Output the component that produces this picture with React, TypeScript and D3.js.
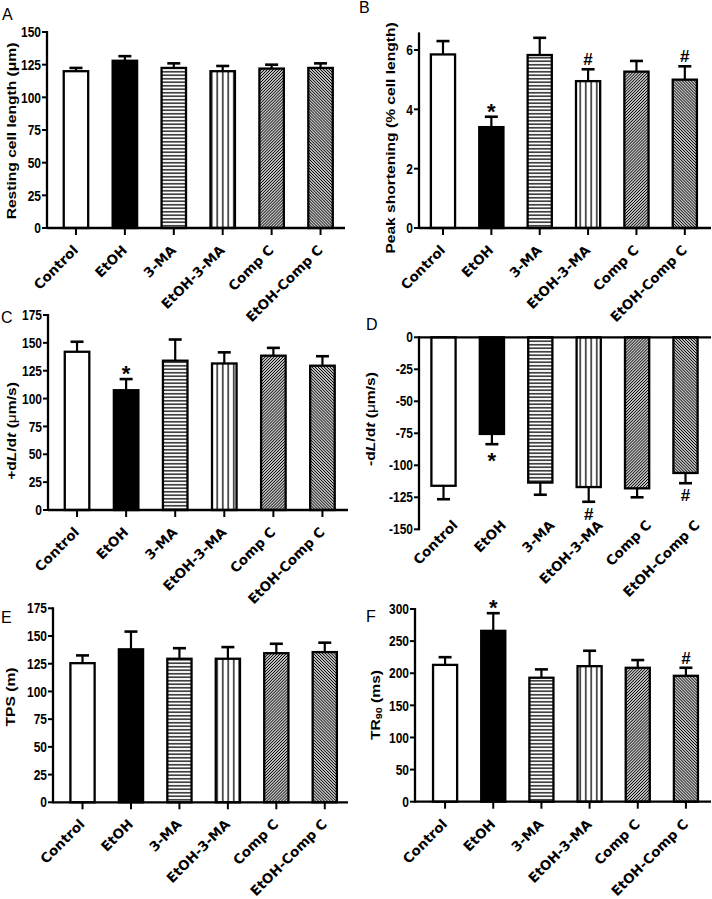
import React from "react";
import * as d3 from "d3";

const categories = ["Control", "EtOH", "3-MA", "EtOH-3-MA", "Comp C", "EtOH-Comp C"];

const restingMean = [120, 128, 122.5, 120, 122, 122.5];
const restingSem = [2.5, 3.5, 3.5, 4, 3, 3.5];
const restingTicks = [0, 25, 50, 75, 100, 125, 150];
const restingMarks = ["", "", "", "", "", ""];

const peakMean = [5.85, 3.4, 5.83, 4.95, 5.27, 5.0];
const peakSem = [0.45, 0.35, 0.58, 0.4, 0.36, 0.45];
const peakTicks = [0, 2, 4, 6];
const peakMarks = ["", "*", "", "#", "", "#"];

const plusMean = [142, 107.5, 134, 131.5, 138.5, 129.5];
const plusSem = [9, 10, 19, 10, 7, 8.5];
const plusTicks = [0, 25, 50, 75, 100, 125, 150, 175];
const plusMarks = ["", "*", "", "", "", ""];

const minusMean = [-116, -75.5, -113.5, -117, -118, -106];
const minusSem = [10.5, 8, 9.5, 11.5, 7, 8];
const minusTicks = [0, -25, -50, -75, -100, -125, -150];
const minusMarks = ["", "*", "", "#", "", "#"];

const tpsMean = [125.5, 138, 129.5, 129.5, 134.5, 135.5];
const tpsSem = [7, 16, 9.5, 10.5, 8.5, 8.5];
const tpsTicks = [0, 25, 50, 75, 100, 125, 150, 175];
const tpsMarks = ["", "", "", "", "", ""];

const tr90Mean = [213, 266, 193, 211, 208.5, 196];
const tr90Sem = [12, 27.5, 13, 24, 12, 12.5];
const tr90Ticks = [0, 50, 100, 150, 200, 250, 300];
const tr90Marks = ["", "*", "", "", "", "#"];

const FONT = "'Liberation Sans', Arial, Helvetica, sans-serif";
const XFONT = "'DejaVu Sans', Verdana, sans-serif";
const fills = ["#ffffff", "#000000", "url(#hatchH)", "url(#hatchV)", "url(#hatchR)", "url(#hatchL)"];

type Cfg = {
  letter: string;
  letterPos: [number, number];
  mean: number[];
  sem: number[];
  ticks: number[];
  marks: string[];
  domain: [number, number];
  yRange: [number, number];
  axisX: number;
  xRange: [number, number];
  xEnd: number;
  labelCenter: [number, number];
  yLabel: React.ReactNode;
  xLabelY: number;
  xLabelDx: number;
  showXTicks: boolean;
};

function Panel({ cfg }: { cfg: Cfg }) {
  const y = d3.scaleLinear().domain(cfg.domain).range(cfg.yRange);
  const x = d3
    .scaleBand<string>()
    .domain(categories)
    .range(cfg.xRange)
    .paddingInner(0.5)
    .paddingOuter(0.25);
  const y0 = y(0);
  const bw = x.bandwidth();
  const yTopAxis = Math.min(cfg.yRange[0], cfg.yRange[1]);
  const yBotAxis = Math.max(cfg.yRange[0], cfg.yRange[1]);
  return (
    <g>
      {categories.map((c, i) => {
        const v = cfg.mean[i];
        const s = cfg.sem[i];
        const sign = v >= 0 ? 1 : -1;
        const e = v + sign * s;
        const cx = (x(c) as number) + bw / 2;
        const yv = y(v);
        const ye = y(e);
        const mark = cfg.marks[i];
        const markCenter = sign > 0 ? ye - 10 : ye + 12;
        return (
          <g key={c}>
            <line x1={cx} x2={cx} y1={yv} y2={ye} stroke="#000" strokeWidth={2.2} />
            <line x1={cx - 6.5} x2={cx + 6.5} y1={ye} y2={ye} stroke="#000" strokeWidth={2.6} />
            <rect
              x={x(c)}
              y={Math.min(yv, y0)}
              width={bw}
              height={Math.abs(y0 - yv)}
              fill={fills[i]}
              stroke="#000"
              strokeWidth={2.3}
            />
            {mark === "*" && (
              <text x={cx} y={markCenter + 12} textAnchor="middle" fontFamily={FONT} fontWeight="bold" fontSize={22}>
                *
              </text>
            )}
            {mark === "#" && (
              <text x={cx} y={markCenter + 6} textAnchor="middle" fontFamily={FONT} fontWeight="bold" fontSize={17}>
                #
              </text>
            )}
          </g>
        );
      })}
      <line x1={cfg.axisX} x2={cfg.axisX} y1={yTopAxis - 1} y2={yBotAxis + 1} stroke="#000" strokeWidth={2.3} />
      {cfg.ticks.map((t) => (
        <g key={t}>
          <line x1={cfg.axisX - 5} x2={cfg.axisX} y1={y(t)} y2={y(t)} stroke="#000" strokeWidth={2} />
          <text
            transform={`translate(${cfg.axisX - 6},${y(t)}) scale(1,1.2)`}
            dy="0.36em"
            textAnchor="end"
            fontFamily={FONT}
            fontWeight="bold"
            fontSize={12}
          >
            {t}
          </text>
        </g>
      ))}
      <line x1={cfg.axisX} x2={cfg.xEnd} y1={y0} y2={y0} stroke="#000" strokeWidth={2.3} />
      {categories.map((c) => {
        const cx = (x(c) as number) + bw / 2;
        return (
          <g key={"xl" + c}>
            {cfg.showXTicks && <line x1={cx} x2={cx} y1={y0} y2={y0 + 7} stroke="#000" strokeWidth={2} />}
            <text
              transform={`translate(${cx + cfg.xLabelDx},${cfg.xLabelY}) rotate(-45)`}
              textAnchor="end"
              fontFamily={XFONT}
              fontWeight="bold"
              fontSize={13.5}
            >
              {c}
            </text>
          </g>
        );
      })}
      <text
        transform={`translate(${cfg.labelCenter[0]},${cfg.labelCenter[1]}) scale(1,1.2) rotate(-90)`}
        textAnchor="middle"
        dominantBaseline="central"
        fontFamily={FONT}
        fontWeight="bold"
        fontSize={13}
      >
        {cfg.yLabel}
      </text>
      <text x={cfg.letterPos[0]} y={cfg.letterPos[1]} fontFamily={FONT} fontSize={16}>
        {cfg.letter}
      </text>
    </g>
  );
}

export default function App() {
  const panels: Cfg[] = [
    {
      letter: "A",
      letterPos: [2, 20],
      mean: restingMean,
      sem: restingSem,
      ticks: restingTicks,
      marks: restingMarks,
      domain: [0, 150],
      yRange: [228, 32],
      axisX: 47,
      xRange: [51.5, 345],
      xEnd: 345,
      labelCenter: [11, 131],
      yLabel: "Resting cell length (μm)",
      xLabelY: 251,
      xLabelDx: 3,
      showXTicks: true,
    },
    {
      letter: "B",
      letterPos: [359, 13],
      mean: peakMean,
      sem: peakSem,
      ticks: peakTicks,
      marks: peakMarks,
      domain: [0, 6.56],
      yRange: [228, 228 - 6.56 * 29.67],
      axisX: 419,
      xRange: [418.8, 709],
      xEnd: 711,
      labelCenter: [390, 138],
      yLabel: "Peak shortening (% cell length)",
      xLabelY: 251,
      xLabelDx: 3,
      showXTicks: true,
    },
    {
      letter: "C",
      letterPos: [1, 323],
      mean: plusMean,
      sem: plusSem,
      ticks: plusTicks,
      marks: plusMarks,
      domain: [0, 175],
      yRange: [510, 315],
      axisX: 48,
      xRange: [52.5, 347],
      xEnd: 348,
      labelCenter: [11, 431],
      yLabel: (
        <>
          +d<tspan fontStyle="italic">L</tspan>/d<tspan fontStyle="italic">t</tspan> (
          <tspan fontWeight="normal">μ</tspan>m/s)
        </>
      ),
      xLabelY: 533,
      xLabelDx: 3,
      showXTicks: true,
    },
    {
      letter: "D",
      letterPos: [366, 330],
      mean: minusMean,
      sem: minusSem,
      ticks: minusTicks,
      marks: minusMarks,
      domain: [-150, 0],
      yRange: [529.3, 337.3],
      axisX: 419,
      xRange: [419.3, 709.7],
      xEnd: 711,
      labelCenter: [370, 419],
      yLabel: (
        <>
          -d<tspan fontStyle="italic">L</tspan>/d<tspan fontStyle="italic">t</tspan> (
          <tspan fontWeight="normal">μ</tspan>m/s)
        </>
      ),
      xLabelY: 526,
      xLabelDx: 15,
      showXTicks: false,
    },
    {
      letter: "E",
      letterPos: [1, 623],
      mean: tpsMean,
      sem: tpsSem,
      ticks: tpsTicks,
      marks: tpsMarks,
      domain: [0, 175],
      yRange: [802.3, 608.3],
      axisX: 53,
      xRange: [58.3, 349],
      xEnd: 348,
      labelCenter: [10, 697],
      yLabel: "TPS (m)",
      xLabelY: 825,
      xLabelDx: 3,
      showXTicks: true,
    },
    {
      letter: "F",
      letterPos: [366, 622],
      mean: tr90Mean,
      sem: tr90Sem,
      ticks: tr90Ticks,
      marks: tr90Marks,
      domain: [0, 300],
      yRange: [801.7, 609],
      axisX: 415,
      xRange: [421, 710],
      xEnd: 711,
      labelCenter: [375, 705],
      yLabel: (
        <>
          TR<tspan fontSize={9} dy={3}>90</tspan>
          <tspan dy={-3}> (ms)</tspan>
        </>
      ),
      xLabelY: 825,
      xLabelDx: 3,
      showXTicks: true,
    },
  ];

  return (
    <svg
      width={712}
      height={899}
      viewBox="0 0 712 899"
      style={{ position: "absolute", left: 0, top: 0, background: "#fff", display: "block" }}
    >
      <defs>
        <pattern id="hatchH" patternUnits="userSpaceOnUse" width={6} height={3.5}>
          <rect width={6} height={3.5} fill="#fff" />
          <line x1={0} x2={6} y1={1.75} y2={1.75} stroke="#000" strokeWidth={1.3} />
        </pattern>
        <pattern id="hatchV" patternUnits="userSpaceOnUse" width={5.5} height={6}>
          <rect width={5.5} height={6} fill="#fff" />
          <line x1={2.75} x2={2.75} y1={0} y2={6} stroke="#000" strokeWidth={1.3} />
        </pattern>
        <pattern id="hatchR" patternUnits="userSpaceOnUse" width={2.1} height={6} patternTransform="rotate(45)">
          <rect width={2.1} height={6} fill="#fff" />
          <line x1={1.05} x2={1.05} y1={0} y2={6} stroke="#000" strokeWidth={1.05} />
        </pattern>
        <pattern id="hatchL" patternUnits="userSpaceOnUse" width={2.1} height={6} patternTransform="rotate(-45)">
          <rect width={2.1} height={6} fill="#fff" />
          <line x1={1.05} x2={1.05} y1={0} y2={6} stroke="#000" strokeWidth={1.05} />
        </pattern>
      </defs>
      <rect width={712} height={899} fill="#fff" />
      {panels.map((p) => (
        <Panel key={p.letter} cfg={p} />
      ))}
    </svg>
  );
}
